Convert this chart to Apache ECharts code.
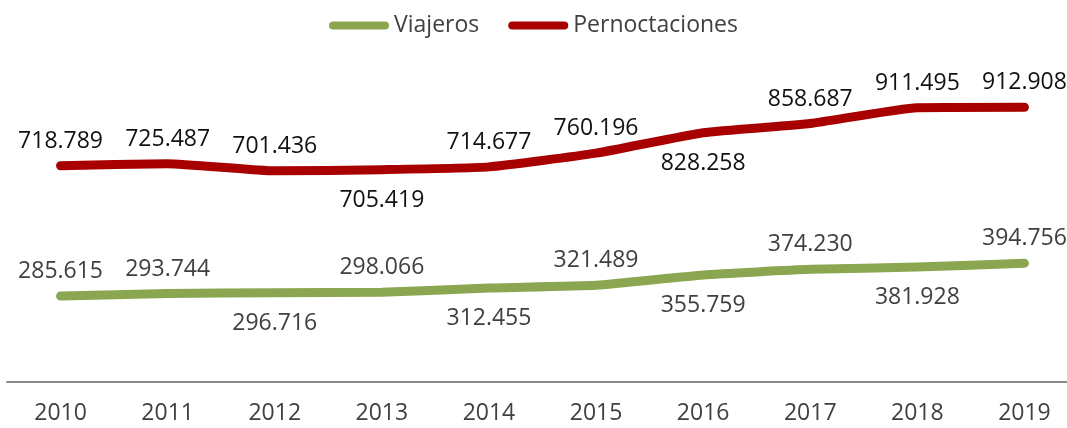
<!DOCTYPE html>
<html>
<head>
<meta charset="utf-8">
<script src="https://cdn.jsdelivr.net/npm/echarts@6/dist/echarts.min.js"></script>
<style>
  html, body { margin: 0; padding: 0; background: #fff; }
  #chart { width: 1067px; height: 428px; }
</style>
</head>
<body>
<div id="chart"></div>
<script>
// Data
const years = ['2010', '2011', '2012', '2013', '2014', '2015', '2016', '2017', '2018', '2019'];
const viajeros = [285615, 293744, 296716, 298066, 312455, 321489, 355759, 374230, 381928, 394756];
const pernoctaciones = [718789, 725487, 701436, 705419, 714677, 760196, 828258, 858687, 911495, 912908];
// where each value label sits (above / below the line)
const viajerosLabelPos = ['top', 'top', 'bottom', 'top', 'bottom', 'top', 'bottom', 'top', 'bottom', 'top'];
const pernoctLabelPos = ['top', 'top', 'top', 'bottom', 'top', 'top', 'bottom', 'top', 'top', 'top'];

const FONT = '"Open Sans", "Liberation Sans", sans-serif';

function fmt(v) {
    return String(v).replace(/\B(?=(\d{3})+(?!\d))/g, '.');
}

function withLabels(values, positions) {
    return values.map((v, i) => ({
        value: v,
        label: { position: positions[i], distance: positions[i] === 'bottom' ? 19 : 13 }
    }));
}

const pill = 'path://M4,0 L56,0 A4,4 0 0 1 56,8 L4,8 A4,4 0 0 1 4,0 Z';

const myChart = echarts.init(document.getElementById('chart'));
const option = {
    animation: false,
    legend: {
        top: 9,
        left: 'center',
        itemWidth: 60,
        itemHeight: 8,
        itemGap: 29,
        textStyle: { fontFamily: FONT, fontSize: 23, color: '#404040' },
        data: [
            { name: 'Viajeros', icon: pill },
            { name: 'Pernoctaciones', icon: pill }
        ]
    },
    grid: {
        left: 7,
        width: 1071,
        top: 81,
        bottom: 46,
        outerBoundsMode: 'none'
    },
    xAxis: {
        type: 'category',
        data: years,
        boundaryGap: true,
        axisLine: { lineStyle: { color: '#8c8c8c', width: 2 } },
        axisTick: { show: false },
        axisLabel: {
            fontFamily: FONT,
            fontSize: 23,
            color: '#404040',
            margin: 20
        }
    },
    yAxis: {
        type: 'value',
        min: 0,
        max: 1000000,
        show: false,
        splitLine: { show: false }
    },
    series: [
        {
            name: 'Viajeros',
            type: 'line',
            smooth: 0.15,
            symbol: 'circle',
            symbolSize: 0,
            showSymbol: true,
            lineStyle: { width: 9, color: '#8BA650', cap: 'round', join: 'round' },
            itemStyle: { color: '#8BA650' },
            label: {
                show: true,
                fontFamily: FONT,
                fontSize: 23,
                color: '#404040',
                formatter: p => fmt(p.value)
            },
            data: withLabels(viajeros, viajerosLabelPos)
        },
        {
            name: 'Pernoctaciones',
            type: 'line',
            smooth: 0.15,
            symbol: 'circle',
            symbolSize: 0,
            showSymbol: true,
            lineStyle: { width: 9, color: '#A80000', cap: 'round', join: 'round' },
            itemStyle: { color: '#A80000' },
            label: {
                show: true,
                fontFamily: FONT,
                fontSize: 23,
                color: '#111',
                formatter: p => fmt(p.value)
            },
            data: withLabels(pernoctaciones, pernoctLabelPos)
        }
    ]
};
myChart.setOption(option);
</script>
</body>
</html>
